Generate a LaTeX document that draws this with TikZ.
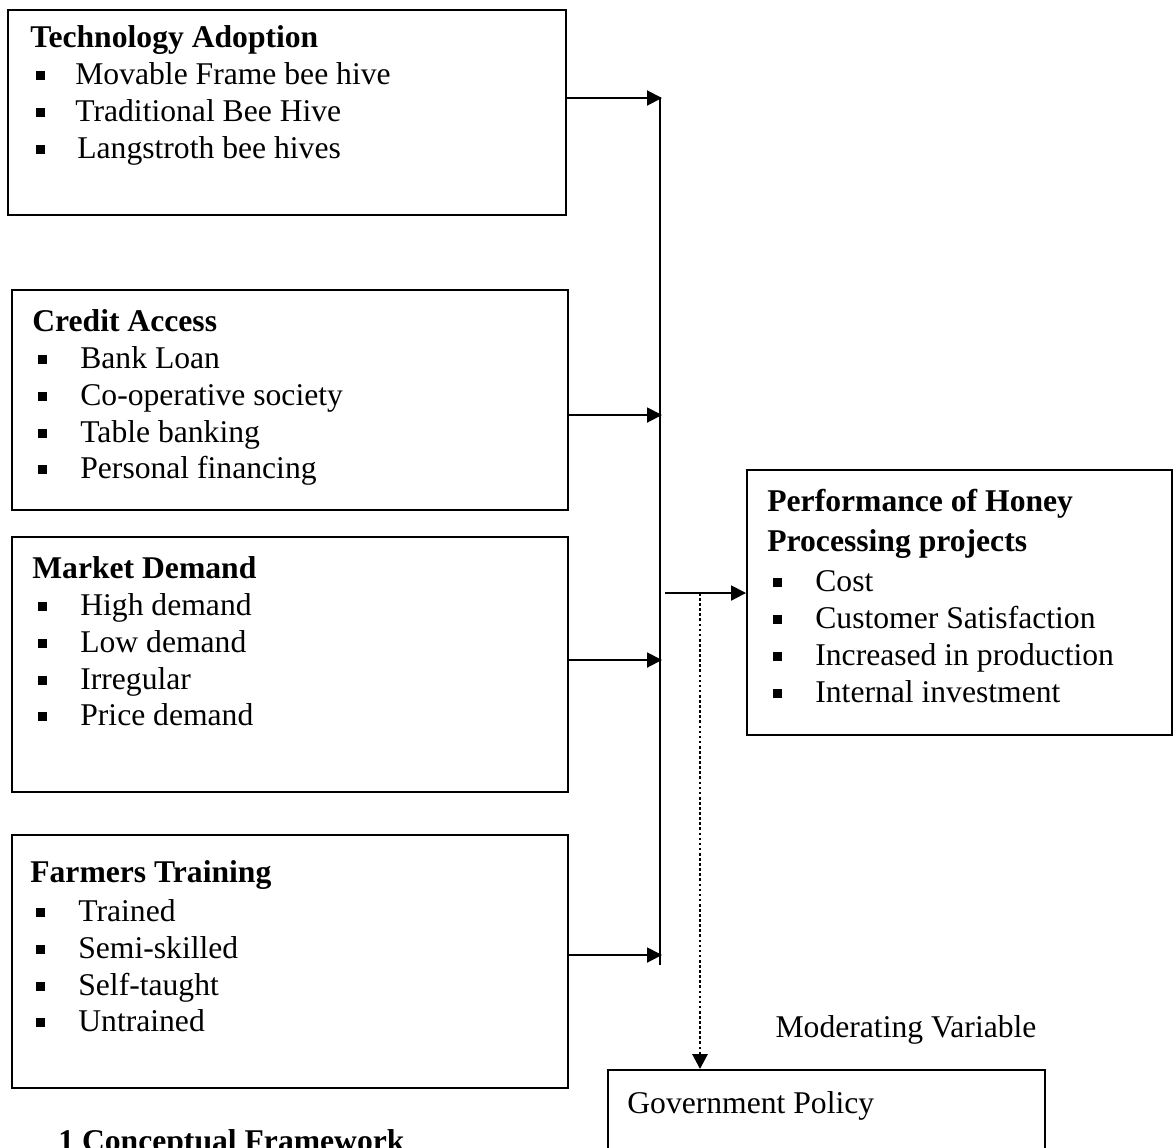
\documentclass[tikz,border=0pt]{standalone}
\usepackage{fontspec}
\setmainfont{Liberation Serif}
\usetikzlibrary{arrows.meta}
\newcommand{\sqb}{\makebox[0.96cm][l]{\hspace{0.12cm}\raisebox{0.09cm}{\rule{0.18cm}{0.18cm}}}}
\tikzset{
  box/.style={draw=black, line width=1.1pt, rectangle, inner sep=0pt},
  txt/.style={anchor=north west, align=left, inner sep=0pt, font=\fontsize{18}{21}\selectfont},
  arr/.style={-{Triangle[length=0.3cm, width=0.3cm]}, line width=1.1pt},
  bus/.style={line width=1.1pt},
  mod/.style={dash pattern=on 1.5pt off 1.4pt, line width=1.6pt, -{Triangle[length=0.3cm, width=0.3cm]}}
}
\begin{document}
\begin{tikzpicture}
  \useasboundingbox (0,0) rectangle (23.48,-22.94);
  \node[box, minimum width=11.16cm, minimum height=4.1cm] (tech) at (5.74,-2.25) {};
  \node[box, minimum width=11.12cm, minimum height=4.4cm] (credit) at (5.8,-8.0) {};
  \node[box, minimum width=11.12cm, minimum height=5.1cm] (market) at (5.8,-13.29) {};
  \node[box, minimum width=11.12cm, minimum height=5.06cm] (farm) at (5.8,-19.23) {};
  \node[box, minimum width=8.5cm, minimum height=5.3cm] (perf) at (19.19,-12.05) {};
  \node[box, minimum width=8.74cm, minimum height=2.6cm] (gov) at (16.53,-22.7) {};

  \node[txt] (techtxt) at (0.6,-0.5) {\textbf{Technology Adoption}\\
    \makebox[0.9cm][l]{\hspace{0.12cm}\raisebox{0.09cm}{\rule{0.18cm}{0.18cm}}}Movable Frame bee hive\\
    \makebox[0.9cm][l]{\hspace{0.12cm}\raisebox{0.09cm}{\rule{0.18cm}{0.18cm}}}Traditional Bee Hive\\
    \makebox[0.94cm][l]{\hspace{0.12cm}\raisebox{0.09cm}{\rule{0.18cm}{0.18cm}}}Langstroth bee hives};
  \node[txt] (credittxt) at (0.64,-6.18) {\textbf{Credit Access}\\
    \sqb Bank Loan\\ \sqb Co-operative society\\ \sqb Table banking\\ \sqb Personal financing};
  \node[txt] (markettxt) at (0.64,-11.12) {\textbf{Market Demand}\\
    \sqb High demand\\ \sqb Low demand\\ \sqb Irregular\\ \sqb Price demand};
  \node[txt] (farmtxt) at (0.6,-17.2) {\textbf{Farmers Training}\\[0.04cm]
    \sqb Trained\\ \sqb Semi-skilled\\ \sqb Self-taught\\ \sqb Untrained};
  \node[txt] (perftxt) at (15.34,-9.78) {\textbf{Performance of Honey}\\[0.06cm]
    \textbf{Processing projects}\\[0.06cm]
    \sqb Cost\\ \sqb Customer Satisfaction\\ \sqb Increased in production\\ \sqb Internal investment};
  \node[txt] (govtxt) at (12.54,-21.82) {Government Policy};
  \node[txt, anchor=center] (modlab) at (18.12,-20.6) {Moderating Variable};
  \node[txt, anchor=base west, font=\bfseries\fontsize{18}{21}\selectfont] (cap) at (1.16,-23.02) {1 Conceptual Framework};

  \coordinate (bt) at (13.2,-1.94);
  \coordinate (bb) at (13.2,-19.3);
  \coordinate (j1) at (13.24,-1.96);
  \coordinate (j2) at (13.24,-8.3);
  \coordinate (j3) at (13.24,-13.2);
  \coordinate (j4) at (13.24,-19.1);
  \coordinate (p0) at (13.3,-11.86);
  \coordinate (d0) at (14.0,-11.86);
  \draw[bus] (bt) -- (bb);
  \draw[arr] (tech.east |- j1) -- (j1);
  \draw[arr] (credit.east |- j2) -- (j2);
  \draw[arr] (market.east |- j3) -- (j3);
  \draw[arr] (farm.east |- j4) -- (j4);
  \draw[arr] (p0) -- (perf.west |- p0);
  \draw[mod] (d0) -- (gov.north -| d0);
\end{tikzpicture}
\end{document}
